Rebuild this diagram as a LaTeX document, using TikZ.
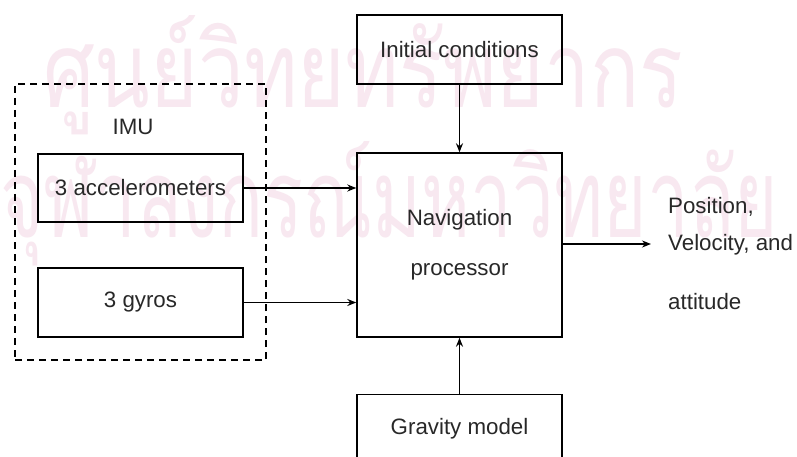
\documentclass[tikz,border=0pt]{standalone}
\usepackage{fontspec}
\setmainfont{Liberation Sans}
\newfontfamily\thaifont[Script=Thai]{Loma}
\usetikzlibrary{arrows.meta}
\definecolor{wmpink}{RGB}{248,232,240}
\definecolor{txt}{RGB}{40,40,40}
\tikzset{
  box/.style={draw=black, line width=1.4pt, minimum width=205pt, inner sep=0pt, align=center, text=txt},
  arr/.style={line width=1.4pt, -{Stealth[length=9pt,width=7pt]}},
  lbl/.style={inner sep=0pt, anchor=west, text=txt},
  wm/.style={inner sep=0pt, text=wmpink, anchor=base west}
}
\begin{document}
\begin{tikzpicture}[x=1pt,y=-1pt, font=\fontsize{22.3}{26}\selectfont]
\clip (0,0) rectangle (797,457);
\fill[white] (0,0) rectangle (797,457);
% watermark
\node[wm] (wm1) at (43,108) {\resizebox{640pt}{92pt}{\thaifont ศูนย์วิทยทรัพยากร}};
\node[wm] (wm2) at (0,237) {\resizebox{778pt}{96pt}{\thaifont จุฬาลงกรณ์มหาวิทยาลัย}};
% IMU group
\node[draw=black, line width=1.4pt, dash pattern=on 7pt off 5pt, minimum width=251pt, minimum height=276pt, inner sep=0pt] (imu) at (140.5,222) {};
\node[inner sep=0pt, text=txt] (imulbl) at (133,127) {IMU};
\node[box, minimum height=68pt] (acc) at (140.5,188) {3 accelerometers};
\node[box, minimum height=69pt] (gyr) at (140.5,302.5) {3 gyros};
% main blocks
\node[box, minimum height=69pt] (init) at (459.5,49.5) {Initial conditions};
\node[box, minimum height=184pt, font=\fontsize{22.3}{50}\selectfont] (nav) at (459.5,245) {Navigation\\processor};
\node[box, minimum height=69pt] (grav) at (459.5,429) {Gravity model};
% connectors
\draw[arr] (acc.east) -- (acc.east -| nav.west);
\draw[arr] (gyr.east) -- (gyr.east -| nav.west);
\draw[arr] (init.south) -- (nav.north);
\draw[arr] (grav.north) -- (nav.south);
\coordinate (outend) at (651,244);
\draw[arr] (nav.east |- outend) -- (outend);
% output text
\node[lbl] (o1) at (668,207) {Position,};
\node[lbl] (o2) at (668,245) {Velocity, and};
\node[lbl] (o3) at (668,302) {attitude};
\end{tikzpicture}
\end{document}
